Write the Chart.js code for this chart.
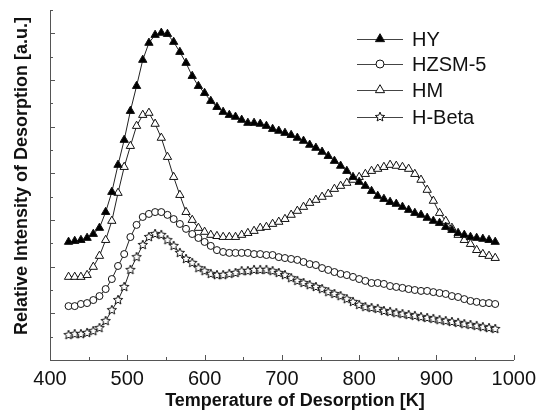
<!DOCTYPE html>
<html>
<head>
    <title>TPD curves</title>
    <script src="https://cdn.jsdelivr.net/npm/chart.js"></script>
    <style>
        html, body { margin: 0; padding: 0; background: #fff; }
        #wrap { width: 543px; height: 417px; }
    </style>
</head>
<body>
    <div id="wrap"><canvas id="myChart"></canvas></div>
    <script>
        // desorption temperature [K]
        const temps = [424, 432, 440, 448, 456, 464, 472, 480, 488, 496, 504, 512, 520, 528, 536, 544, 552, 560, 568, 576,
            584, 592, 600, 608, 616, 624, 632, 640, 648, 656, 664, 672, 680, 688, 696, 704, 712, 720, 728, 736,
            744, 752, 760, 768, 776, 784, 792, 800, 808, 816, 824, 832, 840, 848, 856, 864, 872, 880, 888, 896,
            904, 912, 920, 928, 936, 944, 952, 960, 968, 976];

        const hy = [5.06, 5.10, 5.14, 5.23, 5.40, 5.66, 6.34, 7.20, 8.36, 9.43, 10.67, 11.74, 12.86, 13.59, 13.93, 14.02, 13.97, 13.63, 13.20, 12.73,
            12.17, 11.74, 11.44, 11.10, 10.84, 10.63, 10.50, 10.42, 10.29, 10.16, 10.16, 10.12, 10.03, 9.90, 9.82, 9.73, 9.64, 9.52, 9.39, 9.22,
            9.09, 8.92, 8.74, 8.53, 8.32, 8.10, 7.84, 7.63, 7.46, 7.24, 7.03, 6.90, 6.77, 6.69, 6.56, 6.43, 6.30, 6.22, 6.09, 5.96,
            5.87, 5.70, 5.57, 5.44, 5.36, 5.27, 5.23, 5.19, 5.14, 5.06];

        const hzsm5 = [2.31, 2.31, 2.40, 2.44, 2.57, 2.74, 3.04, 3.47, 4.03, 4.54, 5.27, 5.79, 6.13, 6.26, 6.34, 6.34, 6.22, 6.04, 5.83, 5.62,
            5.40, 5.23, 5.06, 4.89, 4.71, 4.63, 4.59, 4.59, 4.59, 4.59, 4.54, 4.54, 4.50, 4.50, 4.41, 4.37, 4.33, 4.29, 4.20, 4.11,
            4.07, 3.94, 3.86, 3.77, 3.69, 3.64, 3.56, 3.47, 3.39, 3.30, 3.30, 3.26, 3.17, 3.13, 3.09, 3.04, 3.00, 2.96, 2.96, 2.91,
            2.87, 2.83, 2.74, 2.70, 2.61, 2.53, 2.49, 2.44, 2.44, 2.40];

        const hm = [3.56, 3.56, 3.56, 3.64, 3.99, 4.46, 5.14, 5.96, 7.16, 8.27, 9.17, 10.03, 10.50, 10.59, 10.12, 9.52, 8.70, 7.84, 7.07, 6.34,
            6.00, 5.66, 5.49, 5.36, 5.31, 5.27, 5.27, 5.27, 5.36, 5.44, 5.53, 5.66, 5.70, 5.83, 5.92, 6.04, 6.22, 6.39, 6.56, 6.73,
            6.86, 6.99, 7.12, 7.33, 7.46, 7.59, 7.72, 7.84, 7.97, 8.10, 8.19, 8.27, 8.36, 8.32, 8.27, 8.19, 7.97, 7.72, 7.29, 6.82,
            6.30, 5.96, 5.66, 5.36, 5.14, 4.97, 4.71, 4.54, 4.46, 4.37];

        const hbeta = [1.07, 1.11, 1.11, 1.16, 1.24, 1.37, 1.67, 2.14, 2.57, 3.13, 3.86, 4.41, 4.93, 5.27, 5.40, 5.36, 5.14, 4.89, 4.59, 4.33,
            4.16, 3.94, 3.81, 3.69, 3.64, 3.64, 3.69, 3.73, 3.81, 3.81, 3.86, 3.86, 3.86, 3.81, 3.73, 3.64, 3.51, 3.39, 3.30, 3.21,
            3.13, 3.04, 2.91, 2.83, 2.74, 2.61, 2.49, 2.36, 2.27, 2.23, 2.19, 2.10, 2.06, 2.01, 1.97, 1.93, 1.89, 1.84, 1.80, 1.76,
            1.71, 1.67, 1.63, 1.59, 1.54, 1.50, 1.46, 1.41, 1.37, 1.33];

        const seriesNames = ['HY', 'HZSM-5', 'HM', 'H-Beta'];
        const xTitle = 'Temperature of Desorption [K]';
        const yTitle = 'Relative Intensity of Desorption [a.u.]';

        const FONT = '"Liberation Sans", Arial, sans-serif';

        // open five-pointed star marker
        function makeStar() {
            const c = document.createElement('canvas');
            c.width = 12; c.height = 12;
            const g = c.getContext('2d');
            g.beginPath();
            for (let i = 0; i < 10; i++) {
                const r = i % 2 ? 2.2 : 4.9;
                const a = -Math.PI / 2 + i * Math.PI / 5;
                g.lineTo(6 + r * Math.cos(a), 6 + r * Math.sin(a));
            }
            g.closePath();
            g.fillStyle = '#fff';
            g.fill();
            g.strokeStyle = '#111';
            g.lineWidth = 1;
            g.stroke();
            return c;
        }
        const star = makeStar();

        function pts(vals) {
            return temps.map((t, i) => ({ x: t, y: vals[i] }));
        }

        function series(label, vals, style, fill, radius) {
            return {
                label: label,
                data: pts(vals),
                borderColor: '#222',
                borderWidth: 1,
                pointStyle: style,
                pointRadius: radius,
                pointBackgroundColor: fill,
                pointBorderColor: '#111',
                pointBorderWidth: 1,
                tension: 0
            };
        }

        // inward tick marks and axis titles, placed like the original plot
        const axisDecor = {
            id: 'axisDecor',
            afterDraw(chart) {
                const ctx = chart.ctx;
                const xs = chart.scales.x, ys = chart.scales.y;
                const left = xs.left, bottom = ys.bottom;
                ctx.save();
                ctx.strokeStyle = '#555';
                ctx.lineWidth = 1;
                ctx.beginPath();
                for (let v = 1; v <= 15; v++) {
                    const y = Math.round(ys.getPixelForValue(v)) + 0.5;
                    const len = v % 2 === 0 ? 5 : 3;
                    ctx.moveTo(left, y);
                    ctx.lineTo(left + len, y);
                }
                for (let t = 450; t <= 1000; t += 50) {
                    const x = Math.round(xs.getPixelForValue(t)) + 0.5;
                    const len = t % 100 === 0 ? 5 : 3;
                    ctx.moveTo(x, bottom);
                    ctx.lineTo(x, bottom - len);
                }
                ctx.stroke();

                ctx.fillStyle = '#111';
                ctx.font = 'bold 18px ' + FONT;
                ctx.textAlign = 'center';
                ctx.textBaseline = 'alphabetic';
                ctx.fillText(xTitle, 295, 406);
                ctx.translate(27, 176);
                ctx.rotate(-Math.PI / 2);
                ctx.fillText(yTitle, 0, 0);
                ctx.restore();
            }
        };

        // legend with a line through each marker
        const lineLegend = {
            id: 'lineLegend',
            afterDraw(chart) {
                const ctx = chart.ctx;
                const rows = [39, 64, 90, 117];
                ctx.save();
                chart.data.datasets.forEach((ds, i) => {
                    const y = rows[i];
                    ctx.strokeStyle = '#444';
                    ctx.lineWidth = 1;
                    ctx.beginPath();
                    ctx.moveTo(357, y + 0.5);
                    ctx.lineTo(403, y + 0.5);
                    ctx.stroke();
                    ctx.fillStyle = ds.pointBackgroundColor;
                    ctx.strokeStyle = ds.pointBorderColor;
                    Chart.helpers.drawPoint(ctx, {
                        pointStyle: ds.pointStyle,
                        radius: ds.pointRadius + 0.5,
                        rotation: 0,
                        borderWidth: 1
                    }, 380, y);
                    ctx.fillStyle = '#111';
                    ctx.font = '20px ' + FONT;
                    ctx.textBaseline = 'middle';
                    ctx.fillText(ds.label, 412, y + 1);
                });
                ctx.restore();
            }
        };

        const ctx = document.getElementById('myChart').getContext('2d');
        const myChart = new Chart(ctx, {
            type: 'line',
            data: {
                datasets: [
                    series(seriesNames[0], hy, 'triangle', '#000', 4.8),
                    series(seriesNames[1], hzsm5, 'circle', '#fff', 3.5),
                    series(seriesNames[2], hm, 'triangle', '#fff', 4.8),
                    series(seriesNames[3], hbeta, star, '#fff', 4)
                ]
            },
            options: {
                responsive: true,
                maintainAspectRatio: false,
                animation: false,
                events: [],
                layout: { padding: { top: 10, right: 24, left: 0, bottom: 0 } },
                plugins: {
                    legend: { display: false },
                    tooltip: { enabled: false }
                },
                scales: {
                    x: {
                        type: 'linear',
                        min: 400,
                        max: 1000,
                        afterFit(scale) { scale.height = 57; },
                        grid: { display: false, drawTicks: false },
                        border: { display: true, color: '#555', width: 1 },
                        ticks: {
                            stepSize: 100,
                            padding: 7,
                            color: '#111',
                            maxRotation: 0,
                            font: { family: FONT, size: 20 },
                            callback: v => String(v)
                        }
                    },
                    y: {
                        min: 0,
                        max: 15,
                        afterFit(scale) { scale.width = 50; },
                        grid: { display: false, drawTicks: false },
                        border: { display: true, color: '#555', width: 1 },
                        ticks: { display: false, stepSize: 1 }
                    }
                }
            },
            plugins: [axisDecor, lineLegend]
        });
    </script>
</body>
</html>
